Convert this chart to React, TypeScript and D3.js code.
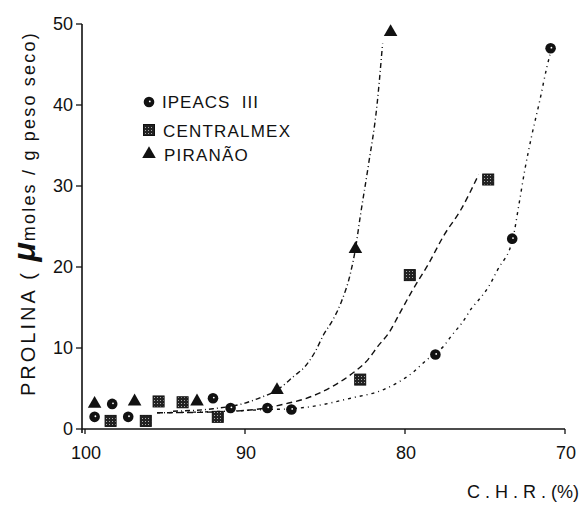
import React from "react";
import * as d3 from "d3";

const X_TICKS = [100, 90, 80, 70];
const Y_TICKS = [0, 10, 20, 30, 40, 50];

const SERIES_NAMES = ["IPEACS  III", "CENTRALMEX", "PIRANÃO"];

const IPEACS_X = [99.4, 98.3, 97.3, 92.0, 90.9, 88.6, 87.1, 78.1, 73.3, 70.9];
const IPEACS_Y = [1.5, 3.1, 1.5, 3.8, 2.6, 2.6, 2.4, 9.2, 23.5, 47.0];

const CENTRAL_X = [98.4, 96.2, 95.4, 93.9, 91.7, 82.8, 79.7, 74.8];
const CENTRAL_Y = [1.0, 1.0, 3.4, 3.3, 1.5, 6.1, 19.0, 30.8];

const PIRANAO_X = [99.4, 96.9, 93.0, 88.0, 83.1, 80.9];
const PIRANAO_Y = [3.1, 3.4, 3.4, 4.8, 22.2, 49.0];

const IPEACS_CURVE_X = [95.5, 91, 88.6, 87.1, 86.1, 83.4, 81.3, 79.5, 78.6, 78.1, 77.6, 77.1, 76.4, 75.8, 75.45, 74.8, 74.2, 73.26, 72.88, 72.51, 72.07, 71.57, 71.13, 70.94];
const IPEACS_CURVE_Y = [2.0, 2.2, 2.4, 2.5, 2.7, 3.8, 4.9, 7.0, 8.6, 9.3, 10.2, 11.5, 13.2, 15.0, 15.8, 17.5, 19.7, 23.5, 27.7, 32.0, 36.3, 40.6, 44.7, 46.2];

const CENTRAL_CURVE_X = [95.5, 92, 89, 87.5, 86.3, 85.5, 84.5, 83.2, 82.3, 81.7, 81.0, 80.3, 79.6, 78.5, 77.6, 76.5, 75.4];
const CENTRAL_CURVE_Y = [2.0, 2.1, 2.5, 3.1, 3.7, 4.3, 5.3, 7.0, 8.6, 10.2, 11.9, 14.4, 16.9, 20.5, 23.8, 27.1, 31.4];

const PIRANAO_CURVE_X = [94.5, 92, 90, 89, 88, 86.9, 86.3, 85.6, 85.1, 84.5, 84.0, 83.4, 83.1, 82.8, 82.3, 81.75, 81.4];
const PIRANAO_CURVE_Y = [2.2, 2.5, 3.2, 3.9, 4.8, 6.6, 7.6, 9.6, 11.6, 13.5, 15.6, 19.3, 22.2, 26.2, 32.4, 40.0, 47.6];

const FONT = "'Liberation Sans', Arial, Helvetica, sans-serif";

const zip = (a: number[], b: number[]) => a.map((v, i) => [v, b[i]] as [number, number]);

export default function App() {
  const W = 582;
  const H = 512;
  const x = d3.scaleLinear().domain([100, 70]).range([85, 565]);
  const y = d3.scaleLinear().domain([0, 50]).range([429, 24]);
  const line = d3
    .line<[number, number]>()
    .x((d) => x(d[0]))
    .y((d) => y(d[1]))
    .curve(d3.curveMonotoneX);

  const tri = d3.symbol(d3.symbolTriangle, 80)() as string;
  const axisX0 = 82;

  const circleMark = (cx: number, cy: number, k: string) => (
    <g key={k}>
      <circle cx={cx} cy={cy} r={5.3} fill="#111" />
      <circle cx={cx + 0.8} cy={cy - 0.6} r={0.9} fill="#fff" />
    </g>
  );
  const squareMark = (cx: number, cy: number, k: string) => (
    <rect key={k} x={cx - 5.5} y={cy - 5.5} width={11} height={11} fill="url(#stip)" stroke="#111" strokeWidth={1} />
  );
  const triMark = (cx: number, cy: number, k: string) => (
    <path key={k} d={tri} transform={`translate(${cx},${cy})`} fill="#111" />
  );

  return (
    <div style={{ position: "fixed", left: 0, top: 0, width: W, height: H, background: "#fff" }}>
      <svg width={W} height={H} viewBox={`0 0 ${W} ${H}`} style={{ display: "block" }}>
        <defs>
          <pattern id="stip" width={3} height={3} patternUnits="userSpaceOnUse">
            <rect width={3} height={3} fill="#222" />
            <rect x={1} y={1} width={1} height={1} fill="#aaa" />
          </pattern>
        </defs>
        <rect width={W} height={H} fill="#fff" />

        {/* curves */}
        <path d={line(zip(IPEACS_CURVE_X, IPEACS_CURVE_Y)) as string} fill="none" stroke="#111" strokeWidth={1.4} strokeDasharray="3,4,1,4" />
        <path d={line(zip(CENTRAL_CURVE_X, CENTRAL_CURVE_Y)) as string} fill="none" stroke="#111" strokeWidth={1.4} strokeDasharray="6,4" />
        <path d={line(zip(PIRANAO_CURVE_X, PIRANAO_CURVE_Y)) as string} fill="none" stroke="#111" strokeWidth={1.4} strokeDasharray="5,3,1,3" />

        {/* axes */}
        <line x1={axisX0} x2={axisX0} y1={y(50)} y2={y(0) + 4} stroke="#111" strokeWidth={1.6} />
        <line x1={axisX0} x2={x(70)} y1={y(0)} y2={y(0)} stroke="#111" strokeWidth={1.6} />
        {Y_TICKS.map((t) => (
          <g key={"yt" + t}>
            <line x1={axisX0 - 6} x2={axisX0} y1={y(t)} y2={y(t)} stroke="#111" strokeWidth={1.3} />
            <text x={73} y={y(t)} dy="0.36em" textAnchor="end" fontFamily={FONT} fontSize={18} fill="#111">
              {t}
            </text>
          </g>
        ))}
        {X_TICKS.map((t) => (
          <g key={"xt" + t}>
            <line x1={x(t)} x2={x(t)} y1={y(0)} y2={y(0) + 5} stroke="#111" strokeWidth={1.3} />
            <text x={x(t) + 1} y={459} textAnchor="middle" fontFamily={FONT} fontSize={18} fill="#111">
              {t}
            </text>
          </g>
        ))}

        {/* markers */}
        {IPEACS_X.map((v, i) => circleMark(x(v), y(IPEACS_Y[i]), "c" + i))}
        {CENTRAL_X.map((v, i) => squareMark(x(v), y(CENTRAL_Y[i]), "s" + i))}
        {PIRANAO_X.map((v, i) => triMark(x(v), y(PIRANAO_Y[i]), "t" + i))}

        {/* legend */}
        {circleMark(149, 102, "lc")}
        {squareMark(149, 130, "ls")}
        {triMark(149, 154, "lt")}
        <text x={162} y={108} fontFamily={FONT} fontSize={17} letterSpacing={1} fill="#111" style={{ whiteSpace: "pre" }}>
          {SERIES_NAMES[0]}
        </text>
        <text x={163} y={137} fontFamily={FONT} fontSize={17} letterSpacing={1.2} fill="#111">
          {SERIES_NAMES[1]}
        </text>
        <text x={164} y={161} fontFamily={FONT} fontSize={17} letterSpacing={1.2} fill="#111">
          {SERIES_NAMES[2]}
        </text>

        {/* y label */}
        <text transform="translate(35,396) rotate(-90)" fontFamily={FONT} fontSize={20} letterSpacing={3} fill="#111" style={{ whiteSpace: "pre" }}>
          <tspan>PROLINA ( </tspan>
          <tspan fontSize={32} fontWeight="bold" fontStyle="italic" letterSpacing={1}>μ</tspan>
          <tspan fontSize={18} letterSpacing={2.2}>moles / g peso seco)</tspan>
        </text>

        {/* x label */}
        <text x={579} y={498} textAnchor="end" fontFamily={FONT} fontSize={18} fill="#111" style={{ whiteSpace: "pre" }}>
          C . H . R . (%)
        </text>
      </svg>
    </div>
  );
}
